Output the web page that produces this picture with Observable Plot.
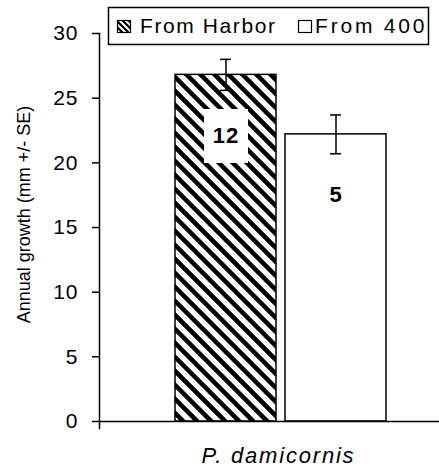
<!DOCTYPE html>
<html>
<head>
<meta charset="utf-8">
<script src="https://cdn.jsdelivr.net/npm/d3@7"></script>
<script src="https://cdn.jsdelivr.net/npm/@observablehq/plot@0.6"></script>
<style>
  html, body { margin: 0; padding: 0; background: #fff; }
  #chart { width: 439px; height: 468px; }
</style>
</head>
<body>
<div id="chart"></div>
<script>
// ---- data ----
const sources = ["From Harbor", "From 400"];
const growth = [26.8, 22.2];          // annual growth (mm)
const se = [1.2, 1.5];                 // +/- SE
const sampleSizes = ["12", "5"];       // n shown inside bars
const species = "P. damicornis";
const yTicks = [0, 5, 10, 15, 20, 25, 30];
const yLabel = "Annual growth (mm +/- SE)";

const data = sources.map((s, i) => ({source: s, growth: growth[i], se: se[i], n: sampleSizes[i]}));

const FONT = "'Liberation Sans', Arial, sans-serif";

const labelBox = {draw(ctx) { ctx.rect(-22, -27, 44, 54); }};

const svg = Plot.plot({
  width: 439,
  height: 468,
  marginLeft: 99,
  marginRight: 0,
  marginTop: 33,
  marginBottom: 47,
  style: {fontFamily: FONT, background: "#fff", color: "#000", letterSpacing: "1px"},
  x: {domain: sources, range: [175, 386], paddingInner: 0.082, paddingOuter: 0, axis: null},
  y: {domain: [0, 30], axis: null},
  color: {domain: sources, range: ["url(#hatch)", "#ffffff"]},
  marks: [
    Plot.barY(data, {x: "source", y: "growth", fill: "source", stroke: "#000", strokeWidth: 1.5}),
    Plot.ruleX(data, {x: "source", y1: d => d.growth - d.se, y2: d => d.growth + d.se, stroke: "#000", strokeWidth: 1.5}),
    Plot.tickY(data, {x: "source", y: d => d.growth + d.se, insetLeft: 45, insetRight: 45, stroke: "#000", strokeWidth: 1.5}),
    Plot.tickY(data, {x: "source", y: d => d.growth - d.se, insetLeft: 45, insetRight: 45, stroke: "#000", strokeWidth: 1.5}),
    Plot.dot(data.slice(0, 1), {x: "source", y: "growth", dy: 61, r: 5, symbol: labelBox, fill: "#fff", stroke: null}),
    Plot.text(data, {x: "source", y: "growth", dy: 61, text: "n", fontWeight: "bold", fontSize: 22, fill: "#000"}),
    Plot.axisY({ticks: yTicks, tickSize: 7, tickPadding: 14, fontSize: 21, label: null, strokeWidth: 1.5}),
    Plot.frame({anchor: "left", strokeWidth: 1.5, insetBottom: -7}),
    Plot.ruleY([0], {stroke: "#000", strokeWidth: 1.5}),
    Plot.text([yLabel], {text: d => d, frameAnchor: "left", textAnchor: "middle", lineAnchor: "middle", rotate: -90, dx: -75, dy: -13, fontSize: 18, fill: "#000"}),
    Plot.text([species], {text: d => d, frameAnchor: "bottom", textAnchor: "middle", lineAnchor: "middle", dy: 34, dx: 9, fontSize: 22, fontStyle: "italic", fill: "#000"})
  ]
});

const s = d3.select(svg);
s.insert("defs", ":first-child").html(`
  <pattern id="hatch" patternUnits="userSpaceOnUse" width="14" height="14">
    <rect width="14" height="14" fill="#fff"/>
    <path d="M-7,7 L7,21 M0,0 L14,14 M7,-7 L21,7" stroke="#000" stroke-width="4.5"/>
  </pattern>
  <pattern id="hatchSmall" patternUnits="userSpaceOnUse" width="6" height="6">
    <rect width="6" height="6" fill="#fff"/>
    <path d="M-3,3 L3,9 M0,0 L6,6 M3,-3 L9,3" stroke="#000" stroke-width="2.2"/>
  </pattern>`);

// per-text letter spacing to match the reference's wide bitmap font
s.selectAll("text").filter(function() { return this.textContent === yLabel; }).attr("letter-spacing", "0px");
s.selectAll("text").filter(function() { return this.textContent === species; }).attr("letter-spacing", "1.8px");

// legend (overlaid at the top of the chart, as in the reference)
const leg = s.append("g").attr("font-family", FONT).attr("font-size", 21).attr("text-anchor", "start");
leg.append("rect").attr("x", 108.5).attr("y", 7.5).attr("width", 320).attr("height", 37)
  .attr("fill", "#fff").attr("stroke", "#000").attr("stroke-width", 1.5);
const items = [
  {label: sources[0], fill: "url(#hatchSmall)", sx: 117, tx: 140, ls: "1.6px"},
  {label: sources[1], fill: "#fff", sx: 298, tx: 315, ls: "2.8px"}
];
items.forEach(it => {
  leg.append("rect").attr("x", it.sx + 0.5).attr("y", 20.5).attr("width", 13).attr("height", 12)
    .attr("fill", it.fill).attr("stroke", "#000").attr("stroke-width", 1.2);
  leg.append("text").attr("x", it.tx).attr("y", 33).attr("fill", "#000")
    .attr("letter-spacing", it.ls).text(it.label);
});

document.getElementById("chart").appendChild(svg);
</script>
</body>
</html>
